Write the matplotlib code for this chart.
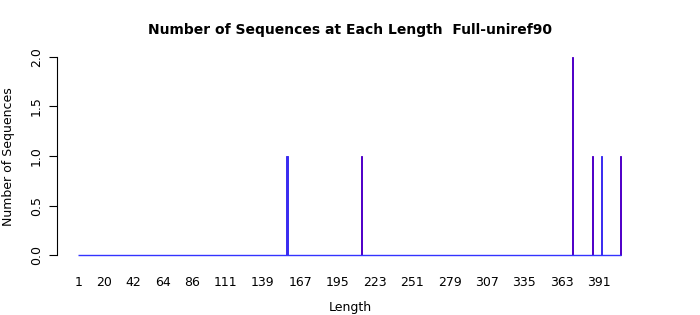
import matplotlib
matplotlib.use('Agg')
import matplotlib.pyplot as plt
import numpy as np

# lengths observed (1..407), only a few have sequences
length_min = 1
length_max = 407
peak_lengths = [157, 213, 371, 386, 393, 407]
peak_counts = [1, 1, 2, 1, 1, 1]
peak_colors = ['#3a2cf0', '#5000c8', '#5000c8', '#5000c8', '#3a2cf0', '#5000c8']
tick_labels = [1, 20, 42, 64, 86, 111, 139, 167, 195, 223, 251, 279, 307, 335, 363, 391]
y_ticks = [0.0, 0.5, 1.0, 1.5, 2.0]

lengths = np.arange(length_min, length_max + 1)
counts = np.zeros(len(lengths))
colors = ['#3333ff'] * len(lengths)
for L, c, col in zip(peak_lengths, peak_counts, peak_colors):
    counts[L - length_min] = c
    colors[L - length_min] = col
widths = [0.7 if c > 0 else 0 for c in counts]

W, H = 700, 315
fig = plt.figure(figsize=(W / 100, H / 100), dpi=100)
ax = fig.add_axes([57 / W, 1 - 263 / H, (640 - 57) / W, (263 - 49) / H])

# zero-height bars show up as a flat line along the bottom
ax.hlines(0, length_min - 0.5, length_max + 0.5, color='#3333ff', linewidth=1.0)
ax.bar(lengths, counts, width=1.0, color=colors, edgecolor=colors, linewidth=widths)

ax.set_xlim(-15.5, 421.8)
ax.set_ylim(-0.08, 2.08)

ax.spines['top'].set_visible(False)
ax.spines['right'].set_visible(False)
ax.spines['bottom'].set_visible(False)
ax.spines['left'].set_bounds(0, 2)
ax.spines['left'].set_linewidth(0.8)

ax.set_yticks(y_ticks)
ax.set_yticklabels(['%.1f' % v for v in y_ticks], rotation=90, va='center', fontsize=9)
ax.tick_params(axis='y', length=6, width=0.8, pad=4)

ax.set_xticks(tick_labels)
ax.set_xticklabels([str(t) for t in tick_labels], fontsize=9)
ax.tick_params(axis='x', length=0, pad=9)

fig.text(350 / W, 1 - 307 / H, 'Length', ha='center', va='center', fontsize=9)
fig.text(9 / W, 1 - 157 / H, 'Number of Sequences', ha='center', va='center',
         rotation=90, fontsize=9)
fig.text(350 / W, 1 - 30 / H, 'Number of Sequences at Each Length  Full-uniref90',
         ha='center', va='center', fontsize=10, fontweight='bold')

fig.savefig('out.png', dpi=100)
